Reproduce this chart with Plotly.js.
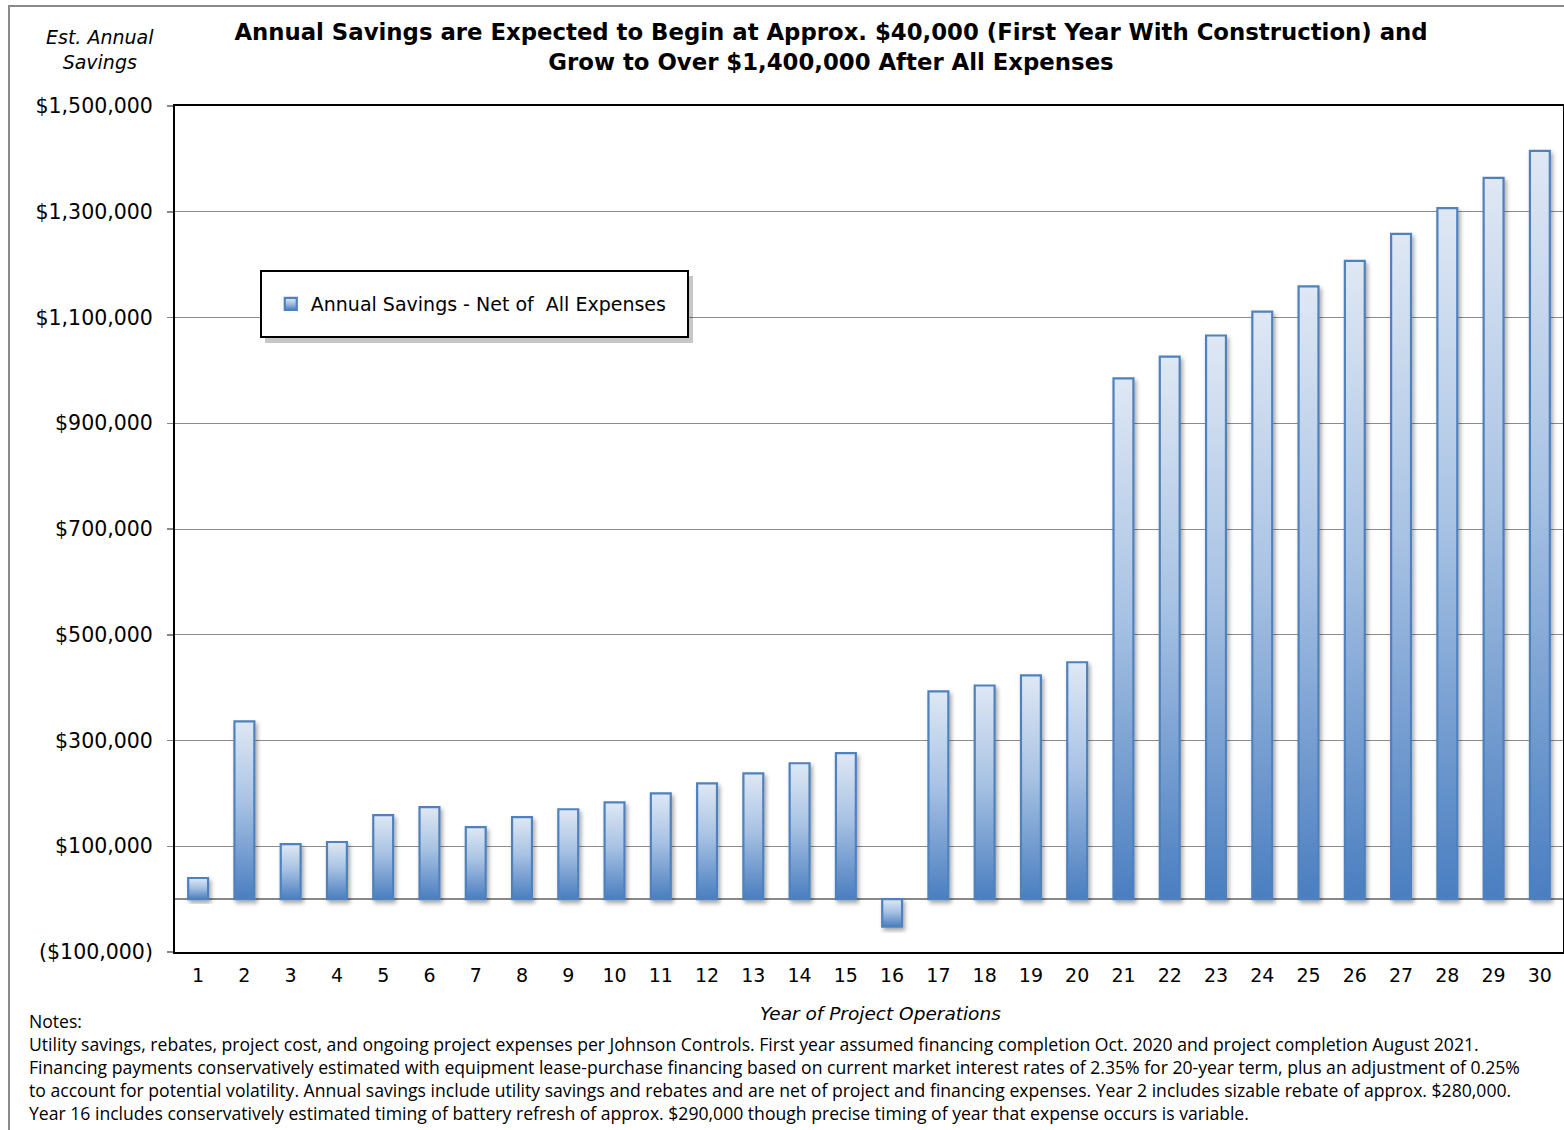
<!DOCTYPE html>
<html>
<head>
<meta charset="utf-8">
<script src="https://cdn.plot.ly/plotly-3.0.1.min.js"></script>
<style>
  html, body { margin: 0; padding: 0; background: #ffffff; }
  #frame { position: absolute; left: 8px; top: 5px; width: 1700px; height: 1300px; border: 2px solid #8a8a8a; box-sizing: border-box; z-index: 0; }
  #chart { position: absolute; left: 0; top: 0; width: 1564px; height: 1130px; z-index: 1; }
</style>
</head>
<body>
<div id="frame"></div>
<div id="chart"></div>
<script>
// ---- Data ----
const years = [1,2,3,4,5,6,7,8,9,10,11,12,13,14,15,16,17,18,19,20,21,22,23,24,25,26,27,28,29,30];
const annualSavings = [40000, 336000, 104000, 108000, 159000, 174000, 136000, 155000, 170000, 183000,
                       200000, 219000, 238000, 257000, 276000, -52000, 393000, 404000, 423000, 448000,
                       985000, 1026000, 1066000, 1111000, 1159000, 1207000, 1258000, 1307000, 1364000, 1415000];
const seriesName = "Annual Savings - Net of  All Expenses";
const yTickVals = [-100000, 100000, 300000, 500000, 700000, 900000, 1100000, 1300000, 1500000];
const yTickText = ["($100,000)", "$100,000", "$300,000", "$500,000", "$700,000", "$900,000", "$1,100,000", "$1,300,000", "$1,500,000"];
const xBoundaries = [0.5,1.5,2.5,3.5,4.5,5.5,6.5,7.5,8.5,9.5,10.5,11.5,12.5,13.5,14.5,15.5,16.5,17.5,18.5,19.5,20.5,21.5,22.5,23.5,24.5,25.5,26.5,27.5,28.5,29.5,30.5];
const titleText = "Annual Savings are Expected to Begin at Approx. $40,000 (First Year With Construction) and<br>Grow to Over $1,400,000 After All Expenses";
const yTitleText = "<i>Est. Annual<br>Savings</i>";
const xTitleText = "<i>Year of Project Operations</i>";
const notesText = "Notes:<br>" +
  "Utility savings, rebates, project cost, and ongoing project expenses per Johnson Controls. First year assumed financing completion Oct. 2020 and project completion August 2021.<br>" +
  "Financing payments conservatively estimated with equipment lease-purchase financing based on current market interest rates of 2.35% for 20-year term, plus an adjustment of 0.25%<br>" +
  "to account for potential volatility. Annual savings include utility savings and rebates and are net of project and financing expenses. Year 2 includes sizable rebate of approx. $280,000.<br>" +
  "Year 16 includes conservatively estimated timing of battery refresh of approx. $290,000 though precise timing of year that expense occurs is variable.";

const FONT = "'Open Sans', Roboto, sans-serif";
const TITLEFONT = "'DejaVu Sans', sans-serif";
const TICKFONT = "'DejaVu Sans', sans-serif";

const trace = {
  type: 'bar',
  x: years,
  y: annualSavings,
  name: seriesName,
  showlegend: true,
  marker: { color: '#9ab8df', line: { color: '#4f81bd', width: 2.2 } },
  hoverinfo: 'x+y'
};

const layout = {
  width: 1564, height: 1130,
  paper_bgcolor: 'rgba(0,0,0,0)',
  plot_bgcolor: '#ffffff',
  margin: { l: 175, r: 1, t: 106, b: 178 },
  bargap: 0.57,
  font: { family: FONT, color: '#000' },
  title: {
    text: titleText,
    font: { family: TITLEFONT, size: 22.8, color: '#000', weight: 'bold' },
    x: 831 / 1564, xref: 'container', xanchor: 'center',
    y: 1 - 40 / 1130, yref: 'container', yanchor: 'middle'
  },
  xaxis: {
    type: 'linear',
    range: [0.5, 30.5],
    tickmode: 'array', tickvals: years, ticktext: years.map(String),
    ticks: '', showgrid: false, zeroline: false,
    showline: true, linecolor: '#000', linewidth: 2, mirror: true,
    tickfont: { family: TICKFONT, size: 19, color: '#000' },
    ticklabelstandoff: 5
  },
  xaxis2: {
    type: 'linear', overlaying: 'x', matches: 'x', anchor: 'free', position: 100000 / 1600000,
    range: [0.5, 30.5],
    tickmode: 'array', tickvals: xBoundaries, showticklabels: false,
    ticks: 'outside', ticklen: 6, tickwidth: 1.5, tickcolor: '#888',
    showgrid: false, zeroline: false, showline: false
  },
  yaxis: {
    range: [-100000, 1500000],
    tickmode: 'array', tickvals: yTickVals, ticktext: yTickText,
    ticks: 'outside', ticklen: 6, tickcolor: '#888', tickwidth: 1.5,
    showgrid: true, gridcolor: '#8c8c8c', gridwidth: 1,
    zeroline: true, zerolinecolor: '#888', zerolinewidth: 1.5,
    showline: true, linecolor: '#000', linewidth: 2, mirror: true,
    tickfont: { family: TICKFONT, size: 20.5, color: '#000' },
    ticklabelstandoff: 10
  },
  showlegend: true,
  legend: {
    x: 0.069, xanchor: 'left', y: (952 - 304) / 846, yanchor: 'middle',
    bgcolor: 'rgba(0,0,0,0)', borderwidth: 0,
    font: { family: TICKFONT, size: 19, color: '#000' }
  },
  shapes: [
    { type: 'rect', xref: 'paper', yref: 'paper', layer: 'above',
      x0: (265 - 175) / 1388, x1: (693 - 175) / 1388, y0: (952 - 343) / 846, y1: (952 - 276) / 846,
      fillcolor: 'rgba(0,0,0,0.22)', line: { width: 0 } },
    { type: 'rect', xref: 'paper', yref: 'paper', layer: 'above',
      x0: (261 - 175) / 1388, x1: (688 - 175) / 1388, y0: (952 - 337) / 846, y1: (952 - 271) / 846,
      fillcolor: '#ffffff', line: { color: '#000', width: 2 } }
  ],
  annotations: [
    { text: yTitleText, xref: 'paper', yref: 'paper', x: (100 - 175) / 1388, y: (952 - 50) / 846,
      xanchor: 'center', yanchor: 'middle', showarrow: false, align: 'center',
      font: { family: TICKFONT, size: 19, color: '#000' } },
    { text: xTitleText, xref: 'paper', yref: 'paper', x: (880 - 175) / 1388, y: (952 - 1013) / 846,
      xanchor: 'center', yanchor: 'middle', showarrow: false,
      font: { family: TICKFONT, size: 18.5, color: '#000' } },
    { text: notesText, xref: 'paper', yref: 'paper', x: (27 - 175) / 1388, y: (952 - 1007) / 846,
      xanchor: 'left', yanchor: 'top', showarrow: false, align: 'left',
      font: { family: FONT, size: 17.6, color: '#000' } }
  ]
};

Plotly.newPlot('chart', [trace], layout, { displayModeBar: false, staticPlot: true }).then(function (gd) {
  const NS = 'http://www.w3.org/2000/svg';
  const svg = gd.querySelector('.main-svg');
  let defs = svg.querySelector('defs');
  if (!defs) { defs = document.createElementNS(NS, 'defs'); svg.insertBefore(defs, svg.firstChild); }
  const grad = document.createElementNS(NS, 'linearGradient');
  grad.setAttribute('id', 'barGrad');
  grad.setAttribute('x1', '0'); grad.setAttribute('y1', '0');
  grad.setAttribute('x2', '0'); grad.setAttribute('y2', '1');
  [['0%', '#dfe8f4'], ['45%', '#a9c3e4'], ['100%', '#4a7ec0']].forEach(function (s) {
    const st = document.createElementNS(NS, 'stop');
    st.setAttribute('offset', s[0]); st.setAttribute('stop-color', s[1]);
    grad.appendChild(st);
  });
  defs.appendChild(grad);
  const filt = document.createElementNS(NS, 'filter');
  filt.setAttribute('id', 'barShadow');
  filt.setAttribute('x', '-30%'); filt.setAttribute('y', '-10%');
  filt.setAttribute('width', '170%'); filt.setAttribute('height', '130%');
  const fe = document.createElementNS(NS, 'feDropShadow');
  fe.setAttribute('dx', '2'); fe.setAttribute('dy', '3'); fe.setAttribute('stdDeviation', '2');
  fe.setAttribute('flood-color', '#000'); fe.setAttribute('flood-opacity', '0.35');
  filt.appendChild(fe);
  defs.appendChild(filt);
  gd.querySelectorAll('.bars .point path').forEach(function (p) {
    p.style.fill = 'url(#barGrad)';
    p.style.fillOpacity = 1;
    p.setAttribute('filter', 'url(#barShadow)');
  });
  gd.querySelectorAll('.legendpoints path').forEach(function (p) {
    p.style.fill = 'url(#barGrad)';
    p.style.fillOpacity = 1;
  });
});
</script>
</body>
</html>
